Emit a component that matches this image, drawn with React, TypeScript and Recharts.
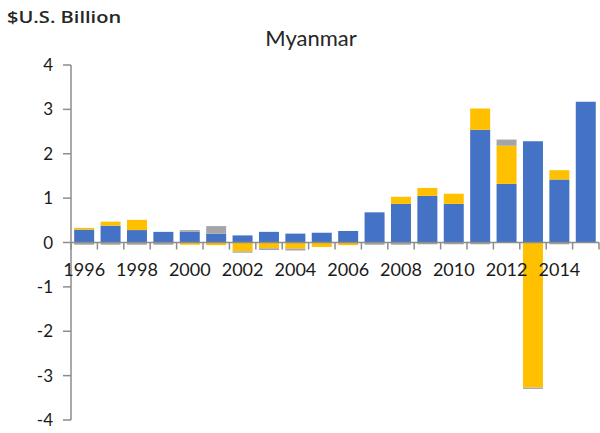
import { BarChart, Bar, XAxis, YAxis, ReferenceLine } from "recharts";

const years = ["1996","1997","1998","1999","2000","2001","2002","2003","2004","2005","2006","2007","2008","2009","2010","2011","2012","2013","2014","2015"];
const blue = [0.29,0.38,0.28,0.24,0.24,0.2,0.16,0.24,0.2,0.22,0.26,0.68,0.87,1.05,0.87,2.54,1.32,2.28,1.42,3.17];
const yellow = [0.04,0.09,0.23,0,-0.05,-0.06,-0.2,-0.13,-0.14,-0.1,-0.06,0,0.16,0.18,0.23,0.48,0.86,-3.27,0.21,0];
const gray = [-0.05,-0.05,-0.05,-0.05,0.04,0.17,-0.03,-0.04,-0.04,0,0,-0.05,-0.05,-0.04,-0.04,-0.04,0.14,-0.03,-0.04,0];
const yTicks = [-4,-3,-2,-1,0,1,2,3,4];
const xLabels = ["1996","1998","2000","2002","2004","2006","2008","2010","2012","2014"];

const data = years.map((y, i) => ({ year: y, blue: blue[i], yellow: yellow[i], gray: gray[i] }));

const W = 600, H = 433;
const M = { top: 65, right: 1, bottom: 0, left: 0 };
const X_H = 13;
const Y_W = 71;
const PLOT_W = W - M.left - M.right - Y_W;
const PLOT_H = H - M.top - M.bottom - X_H;
const ZERO_Y = M.top + PLOT_H * (4 / 8);
const AXIS = "#8c8c8c";
const FONT = "Lato, 'Open Sans', sans-serif";

function XTick(props: any) {
  const { x, payload, index } = props;
  const band = PLOT_W / years.length;
  const left = x - band / 2;
  const show = xLabels.includes(payload.value);
  return (
    <g>
      <line x1={left} x2={left} y1={ZERO_Y} y2={ZERO_Y + 7} stroke={AXIS} strokeWidth={1.5} />
      {index === years.length - 1 && (
        <line x1={left + band} x2={left + band} y1={ZERO_Y} y2={ZERO_Y + 7} stroke={AXIS} strokeWidth={1.5} />
      )}
      {show && (
        <text x={x} y={ZERO_Y + 33} textAnchor="middle" fontSize={18} fill="#1a1a1a" fontFamily={FONT}>
          {payload.value}
        </text>
      )}
    </g>
  );
}

export default function App() {
  return (
    <div style={{ position: "absolute", left: 0, top: 0, width: W, height: H, background: "#fff", fontFamily: FONT }}>
      <div style={{ position: "absolute", left: 7, top: 5, fontSize: 17, fontWeight: 600, color: "#262626", fontFamily: "'Open Sans', sans-serif", transform: "scaleX(1.18)", transformOrigin: "left top", whiteSpace: "nowrap" }}>$U.S. Billion</div>
      <div style={{ position: "absolute", left: 0, width: 622, top: 24, textAlign: "center", fontSize: 22, color: "#262626" }}>Myanmar</div>
      <BarChart width={W} height={H} data={data} margin={M} stackOffset="sign" barCategoryGap="12%">
        <XAxis dataKey="year" axisLine={false} tickLine={false} interval={0} tick={<XTick />} height={X_H} />
        <YAxis
          domain={[-4, 4]}
          ticks={yTicks}
          width={Y_W}
          axisLine={{ stroke: AXIS, strokeWidth: 1.5 }}
          tickLine={{ stroke: AXIS, strokeWidth: 1.5 }}
          tickSize={8}
          tickMargin={10}
          tick={{ fontSize: 17, fill: "#1a1a1a", fontFamily: FONT }}
        />
        <Bar dataKey="blue" stackId="a" fill="#4472C4" isAnimationActive={false} />
        <Bar dataKey="yellow" stackId="a" fill="#FFC000" isAnimationActive={false} />
        <Bar dataKey="gray" stackId="a" fill="#A5A5A5" isAnimationActive={false} />
        <ReferenceLine y={0} stroke={AXIS} strokeWidth={1.5} />
      </BarChart>
    </div>
  );
}
